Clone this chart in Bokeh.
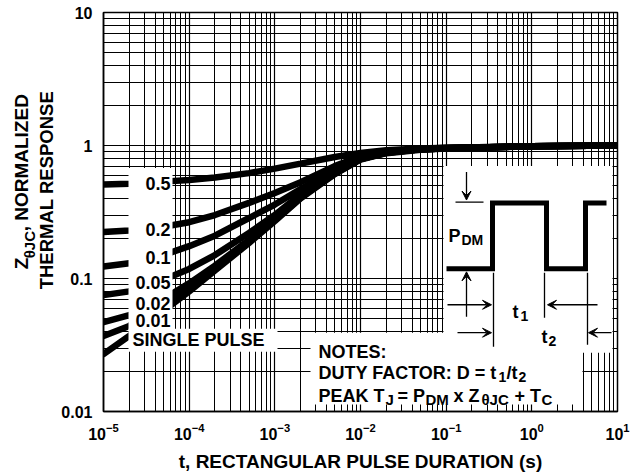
import numpy as np
from bokeh.plotting import figure
from bokeh.layouts import row
from bokeh.models import FixedTicker, Label, Arrow, VeeHead, Range1d
from bokeh.embed import file_html
from bokeh.resources import INLINE

# ---------------- data ----------------
t_s = [1e-5, 2e-5, 5e-5, 1e-4, 2e-4, 5e-4, 1e-3, 2e-3, 5e-3, 1e-2, 2e-2, 5e-2, 1e-1, 1.0, 10.0]
z_d05 = [0.51, 0.515, 0.535, 0.55, 0.575, 0.62, 0.67, 0.73, 0.82, 0.88, 0.92, 0.95, 0.96, 0.985, 1.0]
z_d02 = [0.224, 0.23, 0.245, 0.265, 0.30, 0.37, 0.44, 0.53, 0.70, 0.83, 0.90, 0.94, 0.96, 0.985, 1.0]
z_d01 = [0.123, 0.13, 0.15, 0.175, 0.21, 0.285, 0.36, 0.47, 0.66, 0.81, 0.89, 0.94, 0.955, 0.985, 1.0]
z_d005 = [0.075, 0.08, 0.098, 0.118, 0.15, 0.22, 0.30, 0.43, 0.63, 0.80, 0.885, 0.935, 0.955, 0.985, 1.0]
z_d002 = [0.047, 0.053, 0.07, 0.092, 0.125, 0.195, 0.28, 0.41, 0.62, 0.79, 0.88, 0.935, 0.955, 0.985, 1.0]
z_d001 = [0.037, 0.044, 0.062, 0.086, 0.12, 0.19, 0.275, 0.405, 0.615, 0.79, 0.88, 0.935, 0.955, 0.985, 1.0]
z_single = [0.027, 0.037, 0.057, 0.08, 0.115, 0.185, 0.27, 0.40, 0.61, 0.785, 0.875, 0.93, 0.95, 0.985, 1.0]
series = [z_d05, z_d02, z_d01, z_d005, z_d002, z_d001, z_single]
series_labels = ["0.5", "0.2", "0.1", "0.05", "0.02", "0.01", "SINGLE PULSE"]

x_ticks = [1e-5, 1e-4, 1e-3, 1e-2, 1e-1, 1.0, 10.0]
y_ticks = [0.01, 0.1, 1.0, 10.0]
y_tick_labels = ["0.01", "0.1", "1", "10"]

# ---------------- layout helpers (page pixels -> data) ----------------
SIDE_W = 56
FX0, FX1, FY0, FY1 = 103.0, 617.0, 412.0, 12.0
def px(x):
    return 10 ** (-5 + 6 * (x - FX0) / (FX1 - FX0))
def py(y):
    return 10 ** (-2 + 3 * (FY0 - y) / (FY0 - FY1))

FONT = "Liberation Sans"

p = figure(width=637 - SIDE_W, height=474, x_axis_type="log", y_axis_type="log",
           x_range=(1e-5, 10), y_range=(0.01, 10),
           output_backend="svg", toolbar_location=None,
           min_border_left=int(FX0) - SIDE_W, min_border_right=20,
           min_border_top=12, min_border_bottom=62)
p.background_fill_color = "white"
p.border_fill_color = "white"
p.outline_line_color = "black"
p.outline_line_width = 1.5

minor_x = [k * 10.0 ** e for e in range(-5, 1) for k in range(2, 10)]
minor_y = [k * 10.0 ** e for e in range(-2, 1) for k in range(2, 10)]
p.xaxis.ticker = FixedTicker(ticks=x_ticks, minor_ticks=minor_x)
p.yaxis.ticker = FixedTicker(ticks=y_ticks, minor_ticks=minor_y)
p.yaxis.major_label_overrides = dict(zip(y_ticks, y_tick_labels))

for g in (p.xgrid, p.ygrid):
    g.grid_line_color = "black"
    g.grid_line_width = 1.2
    g.grid_line_alpha = 1.0
    g.minor_grid_line_color = "black"
    g.minor_grid_line_width = 1.0
    g.minor_grid_line_alpha = 1.0

for ax in (p.xaxis, p.yaxis):
    ax.major_tick_in = 0
    ax.major_tick_out = 0
    ax.minor_tick_in = 0
    ax.minor_tick_out = 0
    ax.axis_line_color = "black"
    ax.axis_line_width = 1.5
    ax.major_label_text_font = FONT
    ax.major_label_text_font_style = "bold"
    ax.major_label_text_font_size = "16px"
    ax.major_label_text_color = "black"
p.xaxis.major_label_standoff = 11
p.yaxis.major_label_standoff = 11
p.xaxis.axis_label = "t, RECTANGULAR PULSE DURATION (s)"
p.xaxis.axis_label_text_font = FONT
p.xaxis.axis_label_text_font_style = "bold"
p.xaxis.axis_label_text_font_size = "19px"
p.xaxis.axis_label_text_color = "black"
p.xaxis.axis_label_standoff = 8

# ---------------- curves ----------------
for z in series:
    p.line(t_s, z, line_color="black", line_width=6.5, line_cap="round")

# ---------------- white boxes (labels, notes, inset) ----------------
p.quad(left=[px(128), px(128), px(443), px(310)],
       right=[px(172), px(277), px(612), px(582)],
       top=[py(168), py(329), py(166), py(333)],
       bottom=[py(330), py(352), py(353), py(405)],
       fill_color="white", line_color=None)

def lab(fig, x, y, text, size=18, align="left", baseline="alphabetic", angle=0.0):
    fig.add_layout(Label(x=x, y=y, text=text, text_font=FONT, text_font_style="bold",
                         text_font_size=f"{size}px", text_align=align, text_baseline=baseline,
                         text_color="black", angle=angle))

def mlab(x, y, text, size=18, align="left", baseline="alphabetic"):
    lab(p, px(x), py(y), text, size, align, baseline)

# curve labels
label_y = [183, 230, 258, 283, 304, 321]
for s, yy in zip(series_labels[:-1], label_y):
    mlab(170, yy, s, align="right", baseline="middle")
mlab(132, 340, series_labels[-1], baseline="middle")

# notes
mlab(318, 352, "NOTES:")
mlab(318, 373, "DUTY FACTOR: D = t")
mlab(498, 377, "1", size=14)
mlab(506, 373, "/t")
mlab(518, 377, "2", size=14)
mlab(318, 396, "PEAK T")
mlab(385, 400, "J", size=15)
mlab(397, 396, "= P")
mlab(425, 400, "DM", size=15)
mlab(453, 396, "x Z")
mlab(481, 400, "\u03b8JC", size=15)
mlab(514, 396, "+ T")
mlab(541, 400, "C", size=15)

# inset pulse diagram
pulse_x = [446, 492, 492, 546, 546, 585, 585, 606]
pulse_y = [269, 269, 203, 203, 269, 269, 203, 203]
p.line([px(v) for v in pulse_x], [py(v) for v in pulse_y], line_color="black",
       line_width=5, line_join="miter")
for (x0, y0, x1, y1) in [(455, 202, 483, 202), (493, 273, 493, 347),
                         (544, 273, 544, 318), (587, 273, 587, 345)]:
    p.line([px(x0), px(x1)], [py(y0), py(y1)], line_color="black", line_width=1.3)
for (x0, y0, x1, y1) in [(466, 172, 466, 200), (466, 317, 466, 272),
                         (447, 305, 491, 305), (597, 305, 547, 305),
                         (457, 333, 491, 333), (611, 333, 588, 333)]:
    p.add_layout(Arrow(end=VeeHead(size=9, fill_color="black", line_color="black", line_width=1),
                       x_start=px(x0), y_start=py(y0), x_end=px(x1), y_end=py(y1),
                       line_color="black", line_width=1.3))
mlab(448, 236, "P")
mlab(461, 240, "DM", size=14)
mlab(512, 312, "t")
mlab(520, 316, "1", size=14)
mlab(541, 337, "t")
mlab(548, 341, "2", size=14)

# ---------------- side panel holding the rotated y-axis title ----------------
side = figure(width=SIDE_W, height=474, x_range=Range1d(0, SIDE_W), y_range=Range1d(474, 0),
              output_backend="svg", toolbar_location=None,
              x_axis_location=None, y_axis_location=None,
              min_border_left=0, min_border_right=0, min_border_top=0, min_border_bottom=0)
side.outline_line_color = None
side.xgrid.visible = False
side.ygrid.visible = False
side.background_fill_color = "white"
side.border_fill_color = "white"
lab(side, 21, 305, "Z", size=19, angle=np.pi / 2, baseline="middle")
lab(side, 29, 292, "\u03b8JC", size=15, angle=np.pi / 2, baseline="middle")
lab(side, 21, 260, ", NORMALIZED", size=19, angle=np.pi / 2, baseline="middle")
lab(side, 46, 211, "THERMAL RESPONSE", size=18.5, angle=np.pi / 2, align="center", baseline="middle")

layout = row(side, p, spacing=0)
open("out.html", "w").write(file_html(layout, INLINE))
